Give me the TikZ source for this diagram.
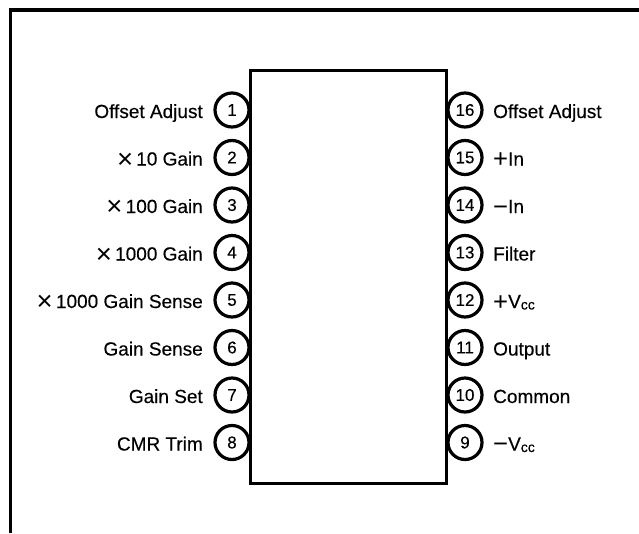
\documentclass[tikz,border=0pt]{standalone}
\usepackage{fontspec}
\setmainfont{Liberation Sans}
\newfontfamily\lblfont{Liberation Sans}[FakeBold=0.3]
\newcommand{\bigtimes}{\raisebox{-2.5pt}{\scalebox{1.45}{\rmfamily ×}}\,}
\newcommand{\bigplus}{\raisebox{-2pt}{\scalebox{1.35}{\rmfamily +}}}
\newcommand{\bigminus}{\raisebox{-2pt}{\scalebox{1.35}{\rmfamily −}}}
\newcommand{\subcc}{\raisebox{-1.5pt}{\fontsize{14}{14}\selectfont cc}}
\begin{document}
\begin{tikzpicture}[x=1pt,y=-1pt,
  pinc/.style={circle,draw,line width=3.2pt,minimum size=34pt,inner sep=0pt,font=\lblfont\fontsize{17}{17}\selectfont},
  lbl/.style={font=\lblfont\fontsize{19}{19}\selectfont,inner sep=0pt},
  frameline/.style={line width=3.5pt},
  chipbox/.style={draw,line width=3pt,minimum width=196pt,minimum height=413pt,inner sep=0pt}]
\useasboundingbox (0,0) rectangle (639,533);
\coordinate (fa) at (10.5,533);
\coordinate (fb) at (10.5,10);
\coordinate (fc) at (639,10);
\draw[frameline] (fa) -- (fb) -- (fc);
\node[chipbox] (chip) at (348,276.5) {};
\foreach \n/\t [count=\i from 0] in {1/Offset Adjust,2/{\bigtimes 10 Gain},3/{\bigtimes 100 Gain},4/{\bigtimes 1000 Gain},5/{\bigtimes 1000 Gain Sense},6/Gain Sense,7/Gain Set,8/CMR Trim}{
  \node[pinc] (p\n) at (232,110+47.5*\i) {\n};
  \node[lbl,anchor=base east] (l\n) at (203,118+47.5*\i) {\t};
}
\foreach \n/\t [count=\i from 0] in {16/Offset Adjust,15/{\bigplus In},14/{\bigminus In},13/Filter,12/{\bigplus V\subcc},11/Output,10/Common,9/{\bigminus V\subcc}}{
  \node[pinc] (p\n) at (465,110+47.5*\i) {\n};
  \node[lbl,anchor=base west] (l\n) at (493,118+47.5*\i) {\t};
}
\end{tikzpicture}
\end{document}
